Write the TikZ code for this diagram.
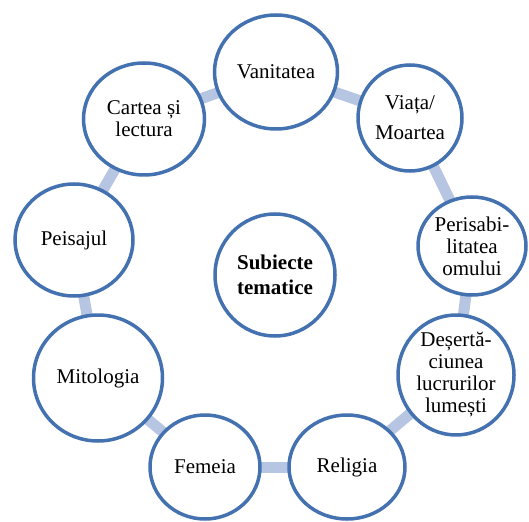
\documentclass[tikz,border=0pt]{standalone}
\usepackage{fontspec}
\setmainfont{Liberation Serif}
\usetikzlibrary{shapes.geometric,backgrounds}
\definecolor{ring}{RGB}{68,114,176}
\definecolor{link}{RGB}{182,198,226}
\begin{document}
\begin{tikzpicture}[x=1pt,y=-1pt,
  bub/.style={ellipse, draw=ring, line width=3.5pt, fill=white, align=center,
    inner sep=0pt, font=\rmfamily\fontsize{21}{22}\selectfont},
  lnk/.style={draw=link, line width=11pt}]
\useasboundingbox (0,0) rectangle (529,521);
\node[bub, minimum width=123pt, minimum height=114pt] (van) at (276,72) {Vanitatea};
\node[bub, minimum width=104pt, minimum height=106pt] (via) at (410,118) {Viața/\\[8pt]Moartea};
\node[bub, minimum width=108pt, minimum height=98pt] (per) at (472,246) {Perisabi-\\litatea\\omului};
\node[bub, minimum width=116pt, minimum height=110pt] (des) at (456,375) {Deșertă-\\ciunea\\lucrurilor\\lumești};
\node[bub, minimum width=116pt, minimum height=104pt] (rel) at (347,467) {Religia};
\node[bub, minimum width=110pt, minimum height=104pt] (fem) at (205,467) {Femeia};
\node[bub, minimum width=129pt, minimum height=126pt] (mit) at (98,378) {Mitologia};
\node[bub, minimum width=118pt, minimum height=112pt] (pei) at (74,240) {Peisajul};
\node[bub, minimum width=121pt, minimum height=112pt] (car) at (144,119) {Cartea și\\lectura};
\node[bub, minimum width=120pt, minimum height=122pt] (cen) at (275,275) {\bfseries Subiecte\\[3pt]\bfseries tematice};
\begin{pgfonlayer}{background}
\draw[lnk] (van.center) -- (via.center);
\draw[lnk] (via.center) -- (per.center);
\draw[lnk] (per.center) -- (des.center);
\draw[lnk] (des.center) -- (rel.center);
\draw[lnk] (rel.center) -- (fem.center);
\draw[lnk] (fem.center) -- (mit.center);
\draw[lnk] (mit.center) -- (pei.center);
\draw[lnk] (pei.center) -- (car.center);
\draw[lnk] (car.center) -- (van.center);
\end{pgfonlayer}
\end{tikzpicture}
\end{document}
